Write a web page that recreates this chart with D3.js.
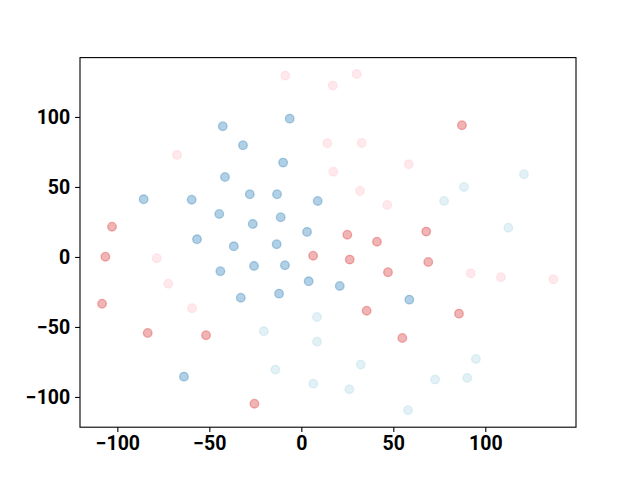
<!DOCTYPE html>
<html><head><meta charset="utf-8">
<script src="https://cdn.jsdelivr.net/npm/d3@7"></script>
<style>body{margin:0;background:#fff}svg{display:block}</style>
</head><body>
<svg id="c" width="640" height="480"></svg>
<script>
const groups = ["blue", "red", "pink", "cyan"];
const groupColors = ["#1f77b4", "#d62728", "#ffc0cb", "#add8e6"];
const blueX = [-6.3,-42.7,-31.7,-9.9,-41.5,-85.7,-59.6,-28.0,-13.2,8.9,-44.6,-26.4,-11.2,3.1,-56.7,-36.7,-13.4,-44.0,-25.7,-8.9,4.0,-32.9,-12.1,-63.8,20.9,58.7];
const blueY = [98.8,93.4,79.8,67.4,57.1,41.2,40.9,44.8,44.8,40.0,30.7,23.6,28.4,17.9,12.6,7.6,9.1,-10.2,-6.4,-5.9,-17.4,-29.1,-26.2,-85.5,-20.7,-30.5];
const redX = [-102.9,-106.5,-108.3,-83.5,-51.8,-25.5,6.4,25.0,41.1,26.3,47.1,67.9,69.0,35.5,85.7,54.9,87.3];
const redY = [21.6,0.2,-33.4,-54.3,-55.9,-104.8,0.9,15.9,10.9,-1.9,-10.9,18.1,-3.6,-38.4,-40.5,-57.9,94.1];
const pinkX = [-8.7,30.1,17.1,14.1,32.8,-67.6,58.4,17.4,31.9,46.7,-78.6,-72.3,-59.4,92.1,108.5,137.0];
const pinkY = [129.5,130.7,122.4,81.2,81.4,72.9,66.2,60.9,47.1,37.1,-0.9,-19.1,-36.6,-11.6,-14.5,-15.9];
const cyanX = [121.0,88.4,77.6,112.5,8.5,-20.4,8.5,-14.1,6.5,94.9,32.3,72.7,90.2,26.1,58.0];
const cyanY = [59.1,50.0,40.0,20.9,-42.9,-53.1,-60.5,-80.5,-90.5,-72.9,-76.9,-87.6,-86.4,-94.5,-109.5];
const xTicks = [-100, -50, 0, 50, 100];
const yTicks = [-100, -50, 0, 50, 100];

const seriesX = [blueX, redX, pinkX, cyanX];
const seriesY = [blueY, redY, pinkY, cyanY];
const points = [];
groups.forEach((g, i) => seriesX[i].forEach((x, j) => points.push({g: i, x: x, y: seriesY[i][j]})));

const L = 80, R = 576, T = 57.6, B = 427.2;
const svg = d3.select("#c");
const x = d3.scaleLinear().domain([-120.3, 149.3]).range([L, R]);
const y = d3.scaleLinear().domain([-121.6, 142.4]).range([B, T]);

svg.append("g").selectAll("circle").data(points).join("circle")
  .attr("cx", d => x(d.x)).attr("cy", d => y(d.y)).attr("r", 4.3)
  .attr("fill", d => groupColors[d.g]).attr("fill-opacity", 0.35)
  .attr("stroke", d => groupColors[d.g]).attr("stroke-opacity", 0.35).attr("stroke-width", 1.3);

const font = "Roboto, 'DejaVu Sans', sans-serif";
const xa = svg.append("g").attr("transform", `translate(0,${B})`)
  .call(d3.axisBottom(x).tickValues(xTicks).tickSize(4.9).tickPadding(4.5).tickFormat(d => d < 0 ? "\u2212" + Math.abs(d) : d));
const ya = svg.append("g").attr("transform", `translate(${L},0)`)
  .call(d3.axisLeft(y).tickValues(yTicks).tickSize(4.9).tickPadding(4.9).tickFormat(d => d < 0 ? "\u2212" + Math.abs(d) : d));
[xa, ya].forEach(a => {
  a.select(".domain").remove();
  a.selectAll(".tick line").attr("stroke", "#000").attr("stroke-width", 1.1);
  a.selectAll(".tick text").attr("fill", "#000").style("font-family", font)
    .style("font-size", "19.5px").style("font-weight", "bold");
});
svg.append("rect").attr("x", L).attr("y", T).attr("width", R - L).attr("height", B - T)
  .attr("fill", "none").attr("stroke", "#000").attr("stroke-width", 1.1);
</script>
</body></html>
